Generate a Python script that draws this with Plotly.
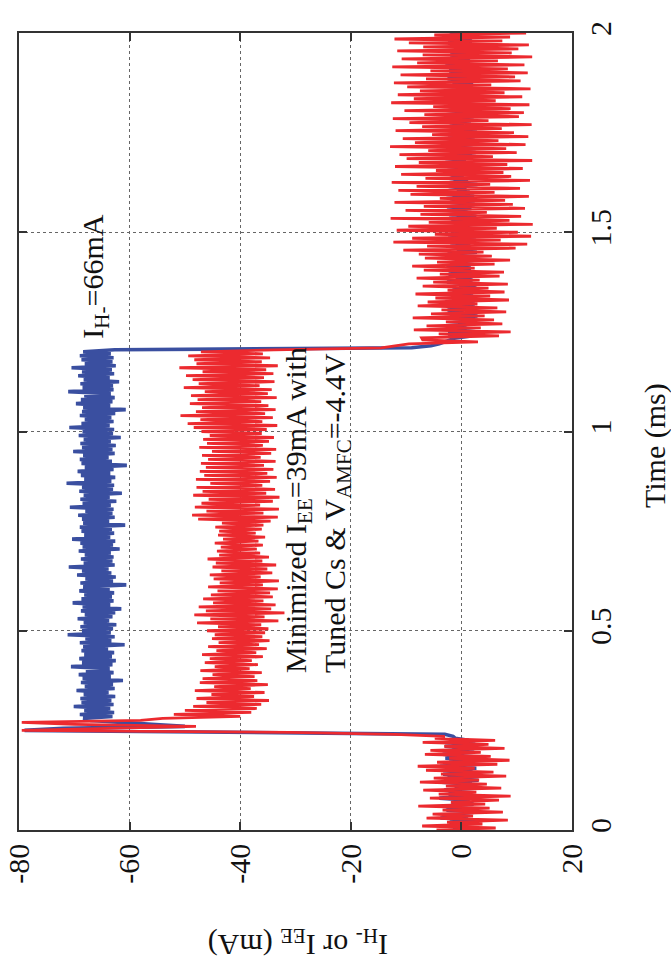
import plotly.graph_objects as go

# ---- data ----
time_step_ms = 0.005
n_samples = 401
time_ms = [round(i * time_step_ms, 3) for i in range(n_samples)]

i_h_minus = [
    # t 0.000-0.230 baseline
    -1.5, 1.8, -3.2, 0.9, -2.1, 2.6, -3.8, 1.2, -1.0, 2.9,
    -2.7, 0.4, -3.5, 2.2, -1.8, 1.5, -4.0, 2.8, -2.3, 0.7,
    -3.1, 2.4, -1.2, 1.9, -3.6, 3.1, -2.5, 0.8, -3.3, 2.0,
    -1.4, 2.7, -3.9, 1.1, -2.2, 3.2, -2.9, 0.5, -3.4, 2.3,
    -1.7, 1.6, -3.0, 2.5, -2.0, 1.3, -1.1,
    # t 0.235-0.275 switch-on
    -1.5, -3.0, -35.0, -79.0, -72.0, -50.0, -56.0, -63.0, -67.0,
    # t 0.280-1.205 plateau
    -68.4, -63.1, -69.0, -62.8, -68.2, -63.5, -70.1, -62.9, -68.7, -63.3,
    -68.9, -62.6, -68.3, -63.8, -69.6, -62.7, -68.1, -63.0, -68.8, -61.2,
    -68.5, -63.4, -69.2, -62.9, -67.9, -63.6, -70.6, -63.1, -68.6, -62.5,
    -69.1, -63.2, -68.2, -62.8, -68.7, -63.9, -68.4, -60.9, -69.0, -63.3,
    -68.0, -62.7, -71.2, -63.4, -68.6, -63.0, -68.9, -62.4, -68.3, -63.7,
    -69.4, -63.1, -68.1, -62.6, -68.8, -61.5, -68.5, -63.5, -70.3, -62.9,
    -68.7, -63.2, -68.2, -62.8, -69.1, -63.6, -68.4, -60.6, -68.9, -63.0,
    -68.0, -62.5, -69.5, -63.3, -68.6, -63.8, -71.0, -62.7, -68.3, -63.1,
    -68.8, -62.9, -68.1, -63.4, -69.2, -61.8, -68.5, -63.0, -68.9, -62.6,
    -70.4, -63.5, -68.2, -62.8, -68.7, -63.2, -69.0, -60.8, -68.4, -63.7,
    -68.6, -62.7, -69.3, -63.1, -68.0, -62.9, -70.8, -63.4, -68.5, -62.4,
    -68.9, -63.6, -68.3, -61.4, -69.1, -63.0, -68.6, -62.8, -71.4, -63.3,
    -68.2, -62.6, -68.8, -63.5, -69.4, -62.9, -68.1, -60.5, -68.7, -63.2,
    -69.0, -63.8, -68.4, -62.7, -70.2, -63.1, -68.6, -62.5, -68.9, -63.4,
    -68.3, -61.6, -69.2, -63.0, -68.5, -62.8, -70.9, -63.6, -68.7, -62.9,
    -68.1, -63.3, -69.0, -62.6, -68.6, -60.7, -68.4, -63.5, -69.7, -63.1,
    -68.8, -62.7, -68.2, -63.4, -71.1, -62.9, -68.5, -63.0, -68.9, -61.9,
    -68.3, -63.6, -69.3, -62.8, -68.6, -63.2, -70.5, -62.5, -68.1, -63.1,
    -68.7, -62.9, -69.0, -63.4, -68.4, -62.7,
    # t 1.210-1.235 switch-off
    -9.0, -5.5, -4.0, -3.0, -2.0, -1.0,
    # t 1.240-2.000 baseline
    1.8, -2.4, 2.6, -1.1, 0.9, -2.8, 2.2, -0.6, 1.5, -2.1,
    2.9, -1.7, 0.4, -2.5, 1.9, -0.9, 2.4, -2.9, 1.0, -1.3,
    2.1, -2.2, 0.7, -1.6, 2.7, -0.4, 1.3, -2.6, 2.0, -1.0,
    0.6, -2.3, 2.5, -1.4, 1.7, -2.7, 0.8, -0.7, 2.3, -1.9,
    1.2, -2.5, 2.8, -0.8, 0.5, -2.0, 1.6, -1.2, 2.6, -2.4,
    0.9, -1.5, 2.2, -2.8, 1.4, -0.5, 2.0, -1.8, 0.3, -2.2,
    2.7, -1.1, 1.1, -2.6, 1.8, -0.3, 2.4, -2.0, 0.7, -1.6,
    2.3, -2.7, 1.5, -0.8, 0.9, -2.3, 2.9, -1.4, 1.2, -2.1,
    0.4, -1.9, 2.1, -2.5, 1.6, -0.6, 2.5, -1.2, 0.8, -2.9,
    1.9, -1.0, 2.6, -2.2, 0.6, -1.7, 2.0, -2.6, 1.3, -0.7,
    2.4, -2.4, 1.0, -1.3, 2.8, -0.9, 0.5, -2.1, 1.7, -1.5,
    2.2, -2.8, 0.8, -0.5, 1.4, -2.3, 2.7, -1.8, 1.1, -2.0,
    0.3, -1.2, 2.5, -2.7, 1.8, -0.8, 2.1, -1.6, 0.6, -2.5,
    2.9, -1.4, 1.2, -2.2, 0.7, -1.1, 2.3, -2.9, 1.5, -0.6,
    2.0, -2.0, 0.9, -1.7, 2.6, -0.4, 1.3, -2.4, 1.9, -1.3,
    0.8, -2.1, 1.6,
]

i_ee = [
    # t 0.000-0.230 baseline
    -4.5, 6.2, -7.1, 3.8, -2.6, 8.4, -6.3, 2.1, -5.2, 7.5,
    -3.4, 5.1, -7.8, 4.3, -1.9, 6.8, -5.7, 8.9, -4.1, 2.7,
    -6.9, 7.2, -2.8, 4.6, -7.5, 3.2, -5.0, 8.1, -3.7, 5.8,
    -6.4, 2.4, -7.9, 6.5, -4.4, 8.7, -2.2, 5.3, -6.6, 3.5,
    -5.6, 7.8, -3.1, 4.9, -7.0, 6.1, -4.8,
    # t 0.235-0.275 switch-on
    -3.0, -12.0, -31.0, -79.5, -62.0, -48.0, -70.0, -79.5, -58.0,
    # t 0.280-1.205 plateau
    -54.0, -40.0, -52.0, -38.0, -50.0, -37.0,
    -48.5, -36.2, -46.1, -34.8, -47.9, -37.5, -45.2, -35.6, -48.2, -38.1, -44.7, -35.0, -47.3, -36.9,
    -46.8, -37.4, -45.0, -36.1, -47.2, -38.3, -44.6, -36.8, -46.4, -37.9, -45.5, -35.9, -46.9, -37.1,
    -44.3, -35.2, -45.8, -36.6, -43.9, -34.7, -45.1, -36.0, -44.6, -35.5, -46.0, -34.9, -44.0,
    -36.2, -47.8, -33.1, -45.4, -35.6, -48.3, -32.0, -46.2, -34.4, -47.5, -33.6, -44.9, -35.8, -46.7, -34.1,
    -45.3, -34.6, -44.1, -33.2, -45.8, -35.9, -43.7, -33.0, -44.8, -36.3, -45.5, -34.2, -43.4, -35.1,
    -45.0, -33.5, -44.4, -36.0, -45.9, -34.8, -43.8,
    -36.4, -44.2, -37.0, -43.5, -35.9, -44.6, -36.7, -43.1, -35.5, -44.0, -37.2, -43.8, -36.1, -44.5,
    -35.8, -43.3,
    -34.5, -47.6, -33.2, -48.7, -35.8, -46.1, -33.0, -48.2, -36.4, -47.0, -34.1, -45.7, -32.9, -48.5,
    -35.3, -46.8, -33.7, -47.9, -36.0, -45.4, -34.6, -48.0, -33.4, -46.5, -35.1, -47.3,
    -34.0, -46.2, -35.7, -47.1, -33.6, -45.8, -36.3, -46.9, -34.4, -45.1, -33.5, -47.4, -35.9, -46.0,
    -34.8, -46.7, -33.9, -45.5, -36.1, -47.0,
    -35.2, -48.4, -33.3, -49.5, -36.0, -47.2, -34.1, -50.8, -35.5, -48.0, -33.6, -46.9, -34.9, -49.1,
    -36.2, -47.7, -33.4, -48.9, -35.0, -46.4, -34.3, -50.2, -36.5, -47.5, -33.8, -48.6, -35.7, -49.8,
    -34.0, -46.8, -35.3, -51.0, -33.2, -47.9, -36.1, -48.3, -34.6, -49.4, -35.9, -47.1, -33.9,
    # t 1.210-1.230 switch-off
    -14.5, -12.0, -9.5, 3.0, -7.0,
    # t 1.235-1.450
    -7.2, 6.8, -4.1, 8.9, -8.6, 3.5, -6.3, 7.4, -2.8, 5.9,
    -8.8, 4.2, -5.5, 8.1, -3.6, 6.5, -7.9, 2.9, -6.1, 8.6,
    -4.7, 5.2, -8.3, 7.8, -2.5, 4.9, -7.0, 8.4, -5.1, 3.3,
    -8.1, 6.9, -3.9, 7.7, -6.8, 2.4, -8.9, 6.0, -4.4, 8.8,
    -6.6, 5.5, -7.7, 4.0,
    # t 1.455-2.000
    -10.5, 9.8, -6.2, 11.9, -12.3, 7.1, -8.9, 12.6, -4.8, 10.2,
    -11.7, 6.4, -9.6, 12.9, -5.9, 8.7, -12.8, 10.8, -7.4, 4.6,
    -10.1, 11.5, -6.8, 9.3, -12.1, 7.9, -3.9, 12.2, -9.2, 6.0,
    -11.4, 10.6, -8.1, 5.2, -12.6, 12.4, -6.5, 9.0, -10.9, 7.6,
    -4.6, 11.1, -12.0, 8.3, -7.7, 12.8, -9.9, 5.7, -11.2, 10.0,
    -6.0, 8.1, -12.9, 11.6, -8.4, 6.7, -10.6, 12.1, -5.3, 9.5,
    -11.9, 7.3, -7.1, 12.7, -9.4, 4.9, -12.4, 10.4, -6.7, 11.3,
    -10.3, 8.9, -5.1, 12.3, -12.7, 6.2, -8.6, 11.0, -11.5, 7.8,
    -7.5, 12.5, -9.8, 5.4, -12.2, 10.7, -6.4, 9.7, -11.0, 12.0,
    -5.6, 8.4, -12.5, 11.4, -8.0, 6.6, -10.8, 12.8, -7.0, 9.1,
    -11.6, 10.3, -6.9, 12.2, -9.5, 7.4, -12.1, 8.8, -4.9, 11.7,
]

current_ticks = [-80, -60, -40, -20, 0, 20]
current_tick_labels = ["-80", "-60", "-40", "-20", "0", "20"]
time_ticks = [0, 0.5, 1, 1.5, 2]
time_tick_labels = ["0", "0.5", "1", "1.5", "2"]

# ---- figure ----
FONT = "Liberation Serif, Times New Roman, serif"
BLUE = "#3a4fa0"
RED = "#ec2a2f"

fig = go.Figure()
fig.add_trace(go.Scatter(x=i_h_minus, y=time_ms, mode="lines",
                         line=dict(color=BLUE, width=3.6), showlegend=False))
fig.add_trace(go.Scatter(x=i_ee, y=time_ms, mode="lines",
                         line=dict(color=RED, width=2.8), showlegend=False))

axis_common = dict(
    showline=True, linecolor="#333333", linewidth=1.5, mirror="ticks",
    ticks="inside", ticklen=8, tickwidth=1.5, tickcolor="#333333",
    showgrid=True, gridcolor="#666666", griddash="dot", gridwidth=1,
    zeroline=False, tickangle=-90, automargin=False,
    tickfont=dict(family=FONT, size=30, color="#111111"),
)

fig.update_layout(
    width=671, height=979,
    margin=dict(l=19, r=99, t=33, b=149),
    paper_bgcolor="white", plot_bgcolor="white",
    xaxis=dict(range=[-80, 20], tickvals=current_ticks, ticktext=current_tick_labels,
               ticklabelstandoff=0, **axis_common),
    yaxis=dict(range=[0, 2], side="right", tickvals=time_ticks, ticktext=time_tick_labels,
               ticklabelstandoff=1, **axis_common),
    annotations=[
        dict(text="Time (ms)", xref="paper", yref="paper", x=1.150, y=0.483,
             textangle=-90, showarrow=False, xanchor="center", yanchor="middle",
             font=dict(family=FONT, size=30, color="#111111")),
        dict(text="I<sub>H-</sub> or I<sub>EE</sub> (mA)", xref="paper", yref="paper",
             x=0.5045, y=-0.142, textangle=180, showarrow=False,
             xanchor="center", yanchor="middle",
             font=dict(family=FONT, size=30, color="#111111")),
        dict(text="I<sub>H-</sub>=66mA", xref="x", yref="y", x=-66.3, y=1.388,
             textangle=-90, showarrow=False, xanchor="center", yanchor="middle",
             font=dict(family=FONT, size=30, color="#111111")),
        dict(text="Minimized I<sub>EE</sub>=39mA with<br>Tuned Cs &amp; V<sub>AMFC</sub>=-4.4V",
             xref="x", yref="y", x=-26.1, y=0.803, align="left",
             textangle=-90, showarrow=False, xanchor="center", yanchor="middle",
             font=dict(family=FONT, size=30, color="#111111")),
    ],
)

fig.write_html("out.html", config={"displayModeBar": False},
               post_script="document.body.style.margin='0';")
